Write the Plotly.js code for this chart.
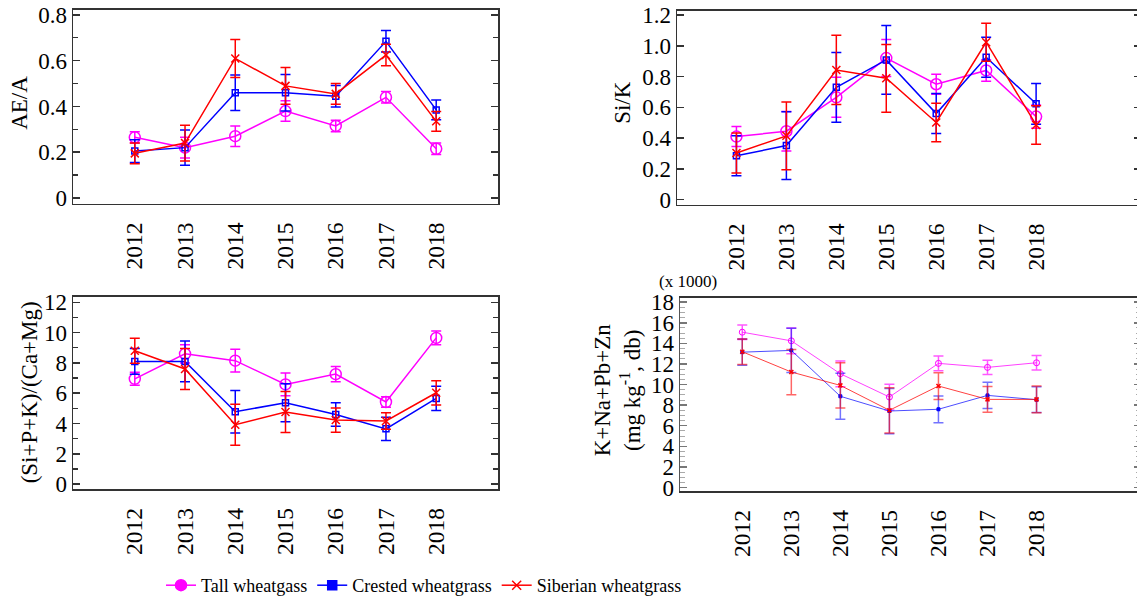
<!DOCTYPE html>
<html>
<head>
<meta charset="utf-8">
<script src="https://cdn.plot.ly/plotly-3.0.1.min.js"></script>
<style>
html,body{margin:0;padding:0;overflow:hidden;background:#fff;width:1137px;height:604px;}
#chart{width:1145px;height:604px;}
</style>
</head>
<body>
<div id="chart"></div>
<script>
// ---------- data ----------
var years = [2012, 2013, 2014, 2015, 2016, 2017, 2018];
var seriesNames = ["Tall wheatgass", "Crested wheatgrass", "Siberian wheatgrass"];

// AE/A
var aeTall = [0.265, 0.22, 0.27, 0.38, 0.315, 0.44, 0.215];
var aeTallErr = [0.025, 0.045, 0.045, 0.045, 0.025, 0.025, 0.025];
var aeCrested = [0.205, 0.22, 0.46, 0.46, 0.445, 0.685, 0.385];
var aeCrestedErr = [0.05, 0.077, 0.078, 0.08, 0.047, 0.047, 0.043];
var aeSiberian = [0.195, 0.24, 0.61, 0.49, 0.455, 0.625, 0.335];
var aeSiberianErr = [0.045, 0.078, 0.083, 0.08, 0.045, 0.047, 0.043];

// Si/K
var sikTall = [0.41, 0.445, 0.665, 0.92, 0.75, 0.84, 0.54];
var sikTallErr = [0.065, 0.128, 0.13, 0.12, 0.065, 0.07, 0.075];
var sikCrested = [0.285, 0.352, 0.73, 0.908, 0.56, 0.925, 0.623];
var sikCrestedErr = [0.13, 0.22, 0.227, 0.223, 0.13, 0.13, 0.132];
var sikSiberian = [0.303, 0.415, 0.843, 0.789, 0.502, 1.023, 0.486];
var sikSiberianErr = [0.13, 0.22, 0.225, 0.22, 0.125, 0.123, 0.125];

// (Si+P+K)/(Ca+Mg)
var ratioTall = [6.95, 8.6, 8.15, 6.58, 7.26, 5.42, 9.65];
var ratioTallErr = [0.43, 0.6, 0.75, 0.75, 0.5, 0.35, 0.45];
var ratioCrested = [8.1, 8.1, 4.78, 5.37, 4.6, 3.65, 5.66];
var ratioCrestedErr = [0.85, 1.35, 1.4, 1.25, 0.77, 0.77, 0.8];
var ratioSiberian = [8.8, 7.6, 3.92, 4.76, 4.23, 4.17, 6.03];
var ratioSiberianErr = [0.82, 1.35, 1.35, 1.35, 0.8, 0.55, 0.8];

// K+Na+Pb+Zn (x 1000 mg/kg)
var metalTall = [15.09, 14.25, 11.05, 8.79, 12.06, 11.67, 12.12];
var metalTallErr = [0.7, 1.25, 1.25, 1.25, 0.72, 0.7, 0.7];
var metalCrested = [13.15, 13.32, 8.86, 7.43, 7.6, 8.95, 8.53];
var metalCrestedErr = [1.28, 2.15, 2.23, 2.2, 1.3, 1.27, 1.25];
var metalSiberian = [13.19, 11.22, 9.92, 7.5, 9.86, 8.56, 8.56];
var metalSiberianErr = [1.25, 2.2, 2.2, 2.2, 1.3, 1.25, 1.3];

// tick labels
var sikTickVals = [0, 0.2, 0.4, 0.6, 0.8, 1.0, 1.2];
var sikTickText = ["0", "0.2", "0.4", "0.6", "0.8", "1.0", "1.2"];
var yearLabels = ["2012", "2013", "2014", "2015", "2016", "2017", "2018"];

// ---------- styling ----------
var W = 1145, H = 604;
var FONT = '"Liberation Serif", "Times New Roman", serif';
var MAG = '#ff00ff', BLU = '#0000ff', RED = '#ff0000';
function px(x){ return x / W; }
function py(y){ return 1 - y / H; }

function tr(y, err, color, sym, msize, xa, ya, opts){
  opts = opts || {};
  return {
    x: years, y: y, type: 'scatter', mode: 'lines+markers',
    xaxis: xa, yaxis: ya, showlegend: false, hoverinfo: 'skip',
    line: {color: opts.lineColor || color, width: opts.lw || 1.5},
    marker: {symbol: sym, size: msize, color: opts.markerColor || color,
             line: {color: opts.markerColor || color, width: opts.mlw || 1.5}},
    error_y: {type: 'data', array: err, visible: true, color: opts.errColor || color,
              thickness: opts.et || 1.5, width: 5}
  };
}

var traces = [
  tr(aeTall, aeTallErr, MAG, 'circle-open', 11, 'x', 'y'),
  tr(aeCrested, aeCrestedErr, BLU, 'square-open', 6, 'x', 'y'),
  tr(aeSiberian, aeSiberianErr, RED, 'x-thin-open', 8, 'x', 'y'),

  tr(sikTall, sikTallErr, MAG, 'circle-open', 11, 'x2', 'y2'),
  tr(sikCrested, sikCrestedErr, BLU, 'square-open', 6, 'x2', 'y2'),
  tr(sikSiberian, sikSiberianErr, RED, 'x-thin-open', 8, 'x2', 'y2'),

  tr(ratioTall, ratioTallErr, MAG, 'circle-open', 11, 'x3', 'y3'),
  tr(ratioCrested, ratioCrestedErr, BLU, 'square-open', 6, 'x3', 'y3'),
  tr(ratioSiberian, ratioSiberianErr, RED, 'x-thin-open', 8, 'x3', 'y3'),

  tr(metalTall, metalTallErr, MAG, 'circle-open', 6, 'x4', 'y4',
     {lineColor: 'rgba(255,0,255,0.75)', lw: 1, errColor: 'rgba(255,0,255,0.65)', et: 1.5, mlw: 1}),
  tr(metalCrested, metalCrestedErr, BLU, 'square', 3, 'x4', 'y4',
     {lineColor: 'rgba(0,0,255,0.7)', lw: 1, errColor: 'rgba(0,0,255,0.55)', et: 1.5, mlw: 1}),
  tr(metalSiberian, metalSiberianErr, RED, 'x-thin-open', 4, 'x4', 'y4',
     {lineColor: 'rgba(255,0,0,0.75)', lw: 1, errColor: 'rgba(255,0,0,0.6)', et: 1.5, mlw: 1.5})
];

// legend-only traces
var legSyms = [['circle', MAG, 11], ['square', BLU, 9], ['x-thin-open', RED, 9]];
seriesNames.forEach(function(n, i){
  traces.push({
    x: [null], y: [null], type: 'scatter', mode: 'lines+markers', name: n,
    xaxis: 'x', yaxis: 'y', showlegend: true,
    line: {color: legSyms[i][1], width: 1.5},
    marker: {symbol: legSyms[i][0], size: legSyms[i][2], color: legSyms[i][1],
             line: {color: legSyms[i][1], width: 1.5}}
  });
});

function xax(dom, range, anchor){
  return {
    domain: dom, range: range, anchor: anchor,
    tickmode: 'array', tickvals: years, ticktext: yearLabels, tickangle: -90,
    ticks: '', showgrid: false, zeroline: false,
    showline: true, mirror: true, linecolor: '#333', linewidth: 1.5,
    tickfont: {family: FONT, size: 23.5, color: '#000'}, ticklabelstandoff: 8
  };
}
function yax(dom, range, anchor, extra){
  var o = {
    domain: dom, range: range, anchor: anchor,
    ticks: 'inside', ticklen: 7, tickwidth: 1.5, tickcolor: '#333',
    showgrid: false, zeroline: false,
    showline: true, mirror: 'ticks', linecolor: '#333', linewidth: 1.5,
    tickfont: {family: FONT, size: 23, color: '#000'}
  };
  for (var k in extra) o[k] = extra[k];
  return o;
}

var layout = {
  width: W, height: H,
  margin: {l: 0, r: 0, t: 0, b: 0},
  paper_bgcolor: '#fff', plot_bgcolor: '#fff',
  font: {family: FONT, size: 20, color: '#000'},
  showlegend: true,
  legend: {orientation: 'h', x: px(161), y: py(586), xanchor: 'left', yanchor: 'middle',
           font: {family: FONT, size: 18, color: '#000'}, itemgap: 18, bgcolor: 'rgba(0,0,0,0)'},
  xaxis: xax([px(73), px(498)], [2010.77, 2019.23], 'y'),
  yaxis: yax([py(204), py(10)], [-0.025, 0.822], 'x',
             {dtick: 0.2, tick0: 0, minor: {dtick: 0.1, ticks: 'inside', ticklen: 5, tickcolor: '#333', tickwidth: 1.2}}),
  xaxis2: xax([px(677), px(1141)], [2010.81, 2020.1], 'y2'),
  yaxis2: yax([py(205), py(11)], [-0.032, 1.226], 'x2',
             {tickmode: 'array', tickvals: sikTickVals, ticktext: sikTickText}),
  xaxis3: xax([px(73), px(498)], [2010.77, 2019.23], 'y3'),
  yaxis3: yax([py(490), py(297)], [-0.33, 12.38], 'x3',
             {dtick: 2, tick0: 0, minor: {dtick: 1, ticks: 'inside', ticklen: 5, tickcolor: '#333', tickwidth: 1.2}}),
  xaxis4: xax([px(680), px(1141)], [2010.73, 2020.13], 'y4'),
  yaxis4: yax([py(492), py(298)], [-0.36, 18.46], 'x4',
             {dtick: 2, tick0: 0, linecolor: '#555', tickcolor: '#777',
              minor: {dtick: 0.5, ticks: 'inside', ticklen: 5, tickcolor: '#aaa', tickwidth: 1}}),
  annotations: [
    {text: 'AE/A', xref: 'paper', yref: 'paper', x: px(20), y: py(103), textangle: -90,
     showarrow: false, font: {family: FONT, size: 23}, xanchor: 'center', yanchor: 'middle'},
    {text: 'Si/K', xref: 'paper', yref: 'paper', x: px(623), y: py(103), textangle: -90,
     showarrow: false, font: {family: FONT, size: 23}, xanchor: 'center', yanchor: 'middle'},
    {text: '(Si+P+K)/(Ca+Mg)', xref: 'paper', yref: 'paper', x: px(29), y: py(393), textangle: -90,
     showarrow: false, font: {family: FONT, size: 23}, xanchor: 'center', yanchor: 'middle'},
    {text: 'K+Na+Pb+Zn<br>(mg kg<sup>-1</sup>, db)', xref: 'paper', yref: 'paper', x: px(617), y: py(390), textangle: -90,
     showarrow: false, font: {family: FONT, size: 23}, xanchor: 'center', yanchor: 'middle'},
    {text: '(x 1000)', xref: 'paper', yref: 'paper', x: px(657), y: py(282), xanchor: 'left', yanchor: 'middle',
     showarrow: false, font: {family: FONT, size: 17}}
  ]
};

Plotly.newPlot('chart', traces, layout, {staticPlot: true, displayModeBar: false});
</script>
</body>
</html>
